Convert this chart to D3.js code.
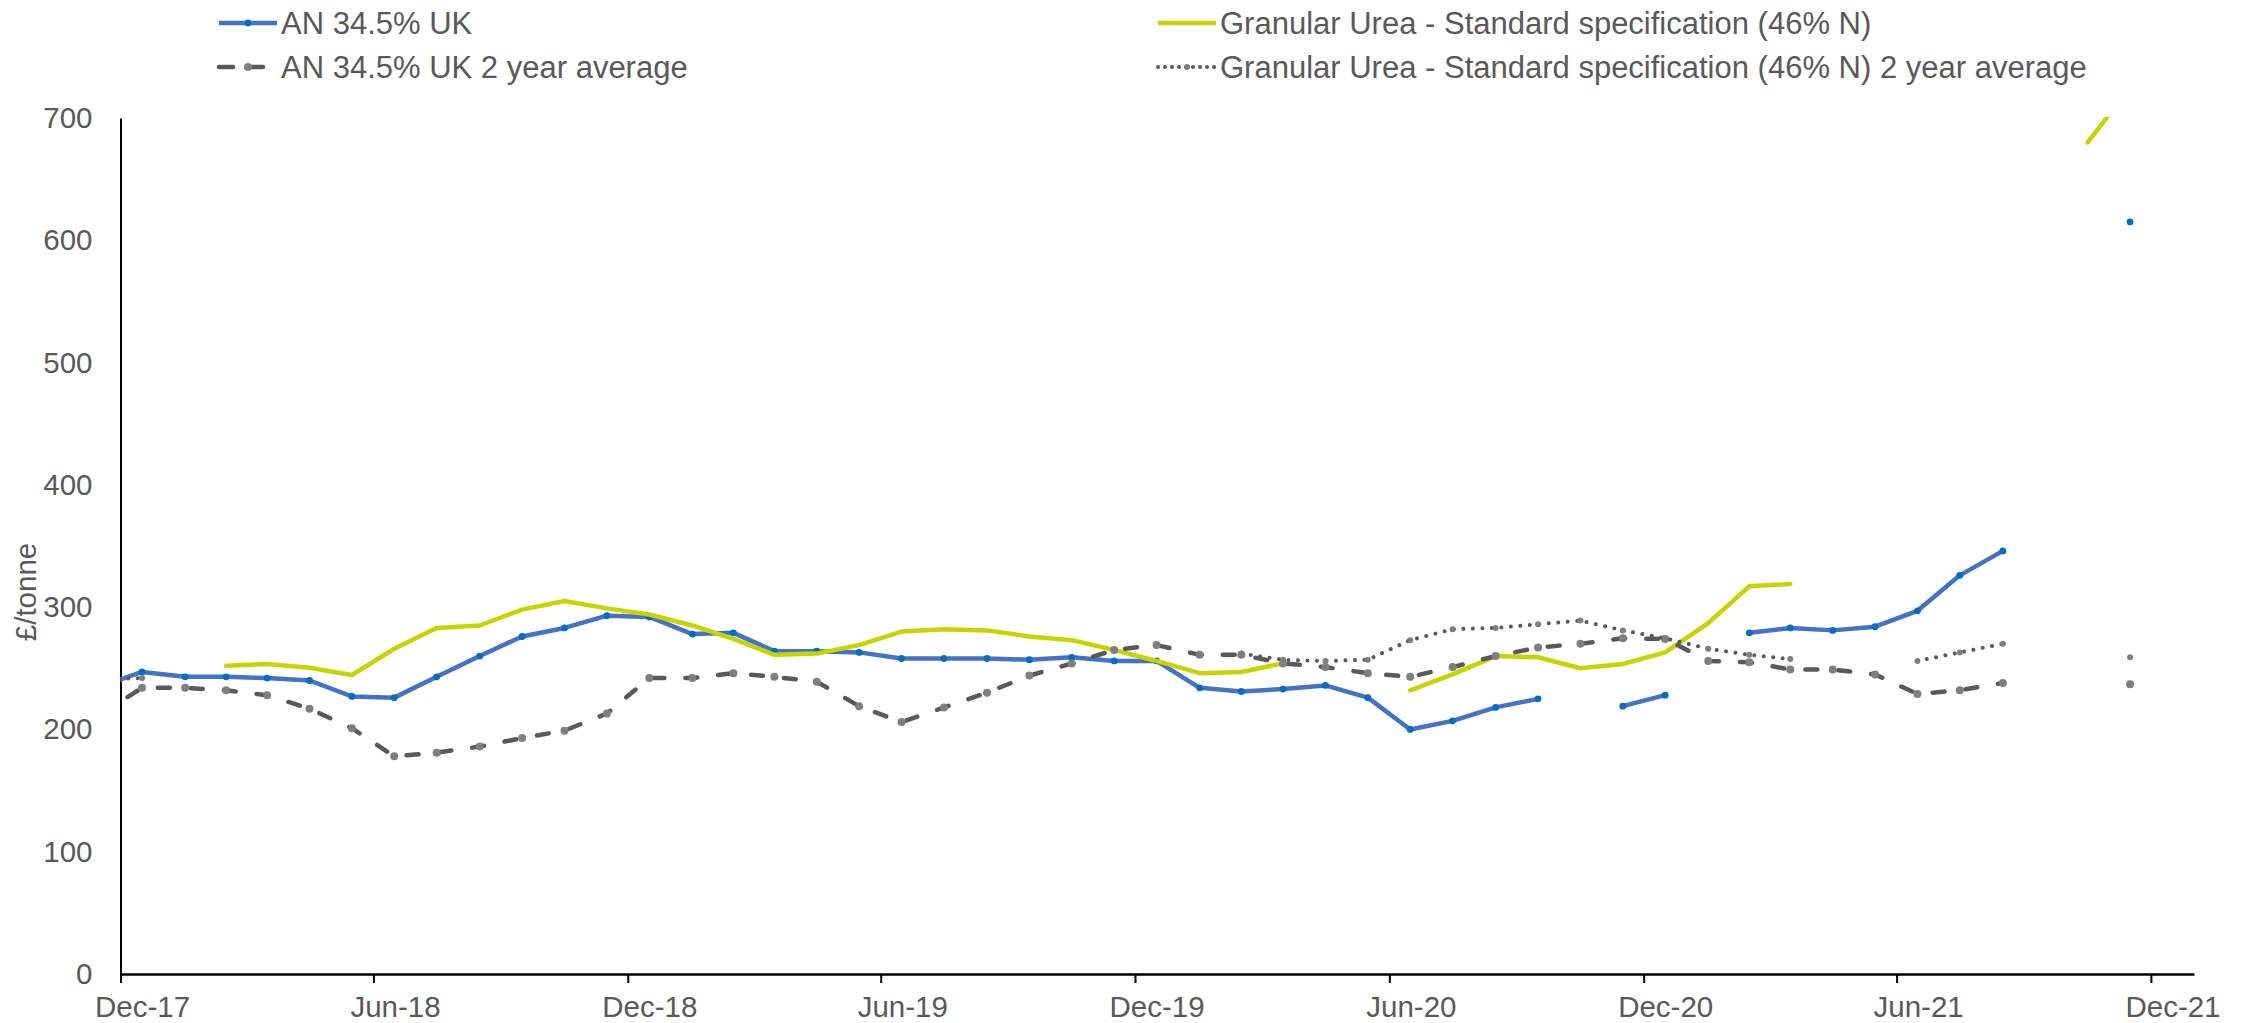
<!DOCTYPE html>
<html>
<head>
<meta charset="utf-8">
<script src="https://cdn.jsdelivr.net/npm/d3@7"></script>
<style>
  body { margin: 0; background: #fff; }
  text { font-family: "Liberation Sans", Arial, sans-serif; fill: #595959; }
</style>
</head>
<body>
<script>
var width = 2249;
var height = 1023;
var plot = { left: 120.5, right: 2194, top: 118, bottom: 974 };

// monthly observations (plotted mid-month), Nov-17 is just left of the axis and gets clipped
var months = ["Nov-17", "Dec-17",
  "Jan-18", "Feb-18", "Mar-18", "Apr-18", "May-18", "Jun-18", "Jul-18", "Aug-18", "Sep-18", "Oct-18", "Nov-18", "Dec-18",
  "Jan-19", "Feb-19", "Mar-19", "Apr-19", "May-19", "Jun-19", "Jul-19", "Aug-19", "Sep-19", "Oct-19", "Nov-19", "Dec-19",
  "Jan-20", "Feb-20", "Mar-20", "Apr-20", "May-20", "Jun-20", "Jul-20", "Aug-20", "Sep-20", "Oct-20", "Nov-20", "Dec-20",
  "Jan-21", "Feb-21", "Mar-21", "Apr-21", "May-21", "Jun-21", "Jul-21", "Aug-21", "Sep-21", "Oct-21", "Nov-21"];

var anUK = [235, 247,
  243, 243, 242, 240, 227, 226, 243, 260, 276, 283, 293, 292,
  278, 279, 264, 264, 263, 258, 258, 258, 257, 259, 256, 256,
  234, 231, 233, 236, 226, 200, 207, 218, 225, null, 219, 228,
  null, 279, 283, 281, 284, 297, 326, 346, null, null, 615];

var urea = [null, null,
  null, 252, 253.5, 250.5, 244.5, 266, 283, 285, 298, 305, 299, 294,
  285, 274, 261, 262, 269, 280, 282, 281, 276, 273, 265, 256,
  246, 247, 254, null, null, 232, 245, 260, 259, 250, 253.5, 263,
  287, 317, 319, null, null, null, null, null, null, 680, 725];

var anUKAvg = [212, 234,
  234, 232, 228, 217, 201, 178, 181, 186, 193, 199, 213, 242,
  242, 246, 243, 239, 219, 206, 218, 230, 244, 254, 265, 269,
  261, 261, 254, 251, 246, 243, 251, 260, 267, 270, 274.5, 274,
  256, 255, 249, 249, 245, 229, 232, 238, null, null, 237];

var ureaAvg = [241, 242,
  null, null, null, null, null, null, null, null, null, null, null, null,
  null, null, null, null, null, null, null, null, null, null, null, null,
  null, 262, 257, 256, 257, 273, 282, 283, 286, 289, 281, 274.5,
  266, 261, 257.5, null, null, 256, 263, 270, null, null, 259];

var yTicks = [0, 100, 200, 300, 400, 500, 600, 700];
var xTickLabels = ["Dec-17", "Jun-18", "Dec-18", "Jun-19", "Dec-19", "Jun-20", "Dec-20", "Jun-21", "Dec-21"];

var parseMonth = d3.timeParse("%b-%y");

// series styling
var series = [
  { name: "AN 34.5% UK", values: anUK, color: "#4472C4", width: 4.5, dash: null,
    marker: "#0070C0", r: 3.4 },
  { name: "Granular Urea - Standard specification (46% N)", values: urea, color: "#C8D400", width: 4.5, dash: null,
    marker: null, r: 0 },
  { name: "AN 34.5% UK 2 year average", values: anUKAvg, color: "#595959", width: 4.5, dash: "12,21",
    marker: "#7F7F7F", r: 4 },
  { name: "Granular Urea - Standard specification (46% N) 2 year average", values: ureaAvg, color: "#595959",
    width: 4, dash: "0.01,9.5", marker: "#7F7F7F", r: 3 }
];

function midMonth(s) {
  var a = parseMonth(s);
  var b = d3.timeMonth.offset(a, 1);
  return new Date((+a + +b) / 2);
}

var x = d3.scaleTime()
  .domain([parseMonth("Dec-17"), parseMonth("Jan-22")])
  .range([plot.left, plot.right]);

var y = d3.scaleLinear()
  .domain([0, 700])
  .range([plot.bottom, plot.top]);

var halfMonth = (x(parseMonth("Jan-18")) - x(parseMonth("Dec-17"))) / 2;

var svg = d3.select("body")
  .append("svg")
  .attr("width", width)
  .attr("height", height);

svg.append("clipPath")
  .attr("id", "plot-area")
  .append("rect")
  .attr("x", plot.left)
  .attr("y", plot.top - 1)
  .attr("width", plot.right - plot.left)
  .attr("height", plot.bottom - plot.top + 1);

// y axis
var yAxis = d3.axisLeft(y).tickValues(yTicks).tickSize(0).tickPadding(28);
var gy = svg.append("g")
  .attr("transform", "translate(" + plot.left + ",0)")
  .call(yAxis);
gy.select(".domain").attr("stroke", "#000").attr("stroke-width", 2);
gy.selectAll("text").style("font-size", "29.5px").attr("fill", "#595959");

// x axis, labels centred in the month after the tick
var xAxis = d3.axisBottom(x)
  .tickValues(xTickLabels.map(parseMonth))
  .tickFormat(d3.timeFormat("%b-%y"))
  .tickSizeInner(9)
  .tickSizeOuter(0)
  .tickPadding(13);
var gx = svg.append("g")
  .attr("transform", "translate(0," + plot.bottom + ")")
  .call(xAxis);
gx.select(".domain").attr("stroke", "#000").attr("stroke-width", 2.5);
gx.selectAll(".tick line").attr("stroke", "#000").attr("stroke-width", 2);
gx.selectAll("text")
  .attr("x", halfMonth)
  .style("font-size", "29.5px")
  .attr("fill", "#595959");

svg.append("text")
  .attr("transform", "translate(36,592) rotate(-90)")
  .attr("text-anchor", "middle")
  .style("font-size", "29.5px")
  .text("£/tonne");

// lines
var chart = svg.append("g").attr("clip-path", "url(#plot-area)");

series.forEach(function(s) {
  var pts = months.map(function(m, i) {
    return { date: midMonth(m), v: s.values[i] };
  });

  var line = d3.line()
    .defined(function(d) { return d.v != null; })
    .x(function(d) { return x(d.date); })
    .y(function(d) { return y(d.v); });

  chart.append("path")
    .datum(pts)
    .attr("fill", "none")
    .attr("stroke", s.color)
    .attr("stroke-width", s.width)
    .attr("stroke-linejoin", "round")
    .attr("stroke-linecap", "round")
    .attr("stroke-dasharray", s.dash)
    .attr("d", line);

  if (s.marker) {
    chart.append("g")
      .selectAll("circle")
      .data(pts.filter(function(d) { return d.v != null; }))
      .enter()
      .append("circle")
      .attr("cx", function(d) { return x(d.date); })
      .attr("cy", function(d) { return y(d.v); })
      .attr("r", s.r)
      .attr("fill", s.marker);
  }
});

// legend
var legendPos = [
  { x: 219, y: 23 },
  { x: 1158, y: 23 },
  { x: 219, y: 67 },
  { x: 1158, y: 67 }
];

series.forEach(function(s, i) {
  var p = legendPos[i];
  var g = svg.append("g").attr("transform", "translate(" + p.x + "," + p.y + ")");
  g.append("line")
    .attr("x1", 0).attr("x2", 58)
    .attr("y1", 0).attr("y2", 0)
    .attr("stroke", s.color)
    .attr("stroke-width", s.width)
    .attr("stroke-linecap", s.dash ? "round" : "butt")
    .attr("stroke-dasharray", s.dash ? (i == 2 ? "14,16" : "0.01,7") : null);
  if (s.marker) {
    g.append("circle").attr("cx", 29).attr("cy", 0).attr("r", s.r).attr("fill", s.marker);
  }
  g.append("text")
    .attr("x", 62)
    .attr("dy", "0.35em")
    .style("font-size", "31px")
    .text(s.name);
});
</script>
</body>
</html>
